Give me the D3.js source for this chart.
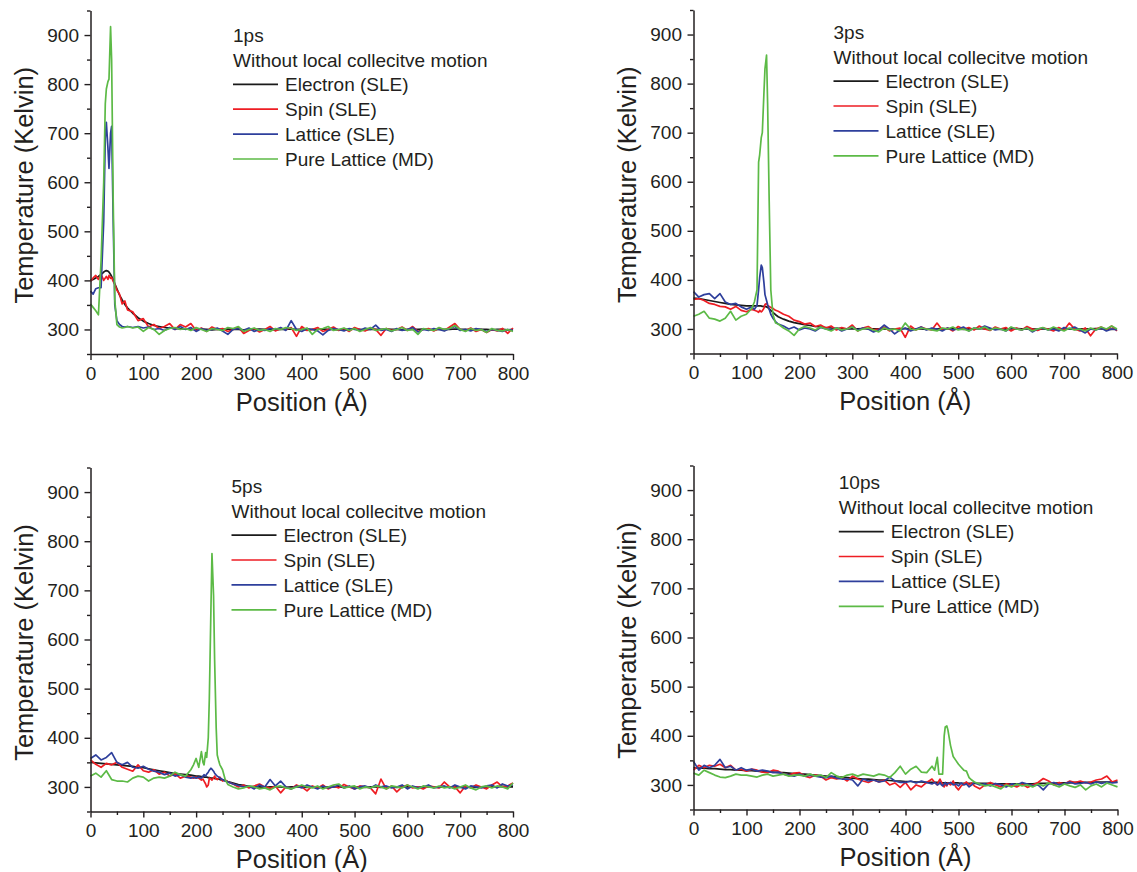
<!DOCTYPE html>
<html><head><meta charset="utf-8">
<script src="https://cdn.jsdelivr.net/npm/d3@7"></script>
<style>
body{margin:0;background:#fff}
svg{display:block}
text{font-family:"Liberation Sans",Arial,Helvetica,sans-serif;fill:#231f20}
</style>
</head><body>
<svg id="chart" width="1137" height="872"></svg>
<script>
// ---------------- DATA ----------------
const seriesNames = ["Electron (SLE)", "Spin (SLE)", "Lattice (SLE)", "Pure Lattice (MD)"];
const panelLabels = ["1ps", "3ps", "5ps", "10ps"];
const subtitle = "Without local collecitve motion";
const xTickValues = [0, 100, 200, 300, 400, 500, 600, 700, 800];
const xMinorValues = [50, 150, 250, 350, 450, 550, 650, 750];
const yTickValues = [300, 400, 500, 600, 700, 800, 900];
const yMinorValues = [250, 350, 450, 550, 650, 750, 850, 950];
const xTitle = "Position (Å)";
const yTitle = "Temperature (Kelvin)";

// Panel 1 (1ps)
const xs1 = [0,5,10,15,20,25,28,30,33,35,38,40,43,46,50,55,60,65,70,
 80,90,100,110,120,130,140,150,160,170,
 180,190,200,210,220,230,240,250,260,270,
 280,290,300,310,320,330,340,350,360,370,
 380,390,400,410,420,430,440,450,460,470,
 480,490,500,510,520,530,540,550,560,570,
 580,590,600,610,620,630,640,650,660,670,
 680,690,700,710,720,730,740,750,760,770,
 780,790,800];
const electron1 = [400,402,405,408,412,417,419,420,419,417,412,408,402,393,383,370,360,351,344,
 333,324,317,312,308,306,304,303,302,301,
 301,300,300,301,300,299,300,300,301,300,
 300,299,300,300,301,300,300,299,300,300,
 301,300,300,299,300,300,301,300,300,299,
 300,300,301,300,299,300,300,300,301,300,
 300,299,300,300,300,301,300,299,300,300,
 300,301,300,300,299,300,300,300,299,300,
 300,299,300];
const spin1 = [398,405,410,402,413,400,405,408,402,410,404,406,398,392,380,372,352,358,340,
 336,318,322,305,310,302,306,312,300,310,
 305,312,298,303,296,305,300,302,296,300,
 305,292,298,302,295,300,306,297,302,300,
 304,286,306,298,300,304,296,300,305,298,
 302,296,304,300,297,303,300,288,302,298,
 300,305,298,306,296,300,302,297,303,298,
 305,312,300,298,303,296,300,294,300,297,
 302,292,303];
const lattice1 = [378,372,383,385,385,520,690,722,670,628,700,714,520,350,318,310,306,305,306,
 304,306,303,305,300,302,298,304,300,306,
 300,304,296,302,298,300,303,297,290,300,
 302,298,303,296,300,298,302,300,304,298,
 318,300,296,302,300,297,289,298,302,300,
 297,302,300,298,303,300,309,298,300,296,
 302,298,300,304,295,300,298,302,300,297,
 302,306,298,300,297,302,300,296,300,298,
 296,300,298];
const pure1 = [352,345,338,330,440,600,760,790,805,810,917,850,560,360,310,305,303,304,306,
 303,305,296,304,300,290,298,302,304,300,
 302,298,304,300,296,302,300,298,304,302,
 306,296,300,303,298,300,296,302,300,304,
 302,298,300,303,290,300,302,306,298,300,
 303,298,302,296,300,304,298,300,302,297,
 300,304,298,300,290,302,300,298,304,300,
 302,308,300,296,302,298,300,294,302,298,
 297,300,296];

// Panel 2 (3ps)
const xs2 = [0,10,20,30,40,50,60,70,80,90,100,110,
 115,120,123,125,128,130,133,135,138,140,143,146,150,155,
 160,170,180,190,200,210,220,230,240,250,
 260,270,280,290,300,310,320,330,340,350,
 360,370,380,390,400,410,420,430,440,450,
 460,470,480,490,500,510,520,530,540,550,
 560,570,580,590,600,610,620,630,640,650,
 660,670,680,690,700,710,720,730,740,750,
 760,770,780,790,800];
const electron2 = [363,362,360,358,356,354,352,350,349,348,347,347,
 347,347,347,347,347,346,346,346,345,344,341,338,334,329,
 325,320,316,313,311,309,307,305,304,303,
 302,301,301,300,300,300,301,300,300,300,
 300,299,300,300,301,300,300,300,299,300,
 300,301,300,300,300,299,300,300,301,300,
 300,300,299,300,300,301,300,300,300,299,
 300,300,301,300,300,300,299,300,300,300,
 301,300,300,299,300];
const spin2 = [360,362,358,352,350,346,345,340,346,338,335,340,
 338,336,334,338,335,337,342,350,352,348,346,344,342,338,
 336,330,326,318,315,310,312,305,308,302,
 306,298,303,300,308,296,302,305,298,300,
 304,296,300,302,283,306,298,304,300,298,
 312,298,302,296,305,300,303,298,306,300,
 297,304,300,303,296,302,298,305,300,297,
 302,300,296,303,298,312,300,296,302,286,
 300,304,298,306,296];
const lattice2 = [376,365,370,372,362,372,355,350,352,345,340,345,
 340,348,380,405,430,425,395,370,358,350,340,330,322,315,
 310,306,300,304,298,302,300,296,303,300,
 298,302,296,300,304,298,302,300,294,298,
 308,300,290,298,302,296,300,304,298,302,
 300,296,302,298,300,304,296,302,300,306,
 302,298,300,296,303,300,298,302,294,300,
 302,298,300,296,303,300,304,298,292,300,
 298,302,296,300,298];
const pure2 = [326,330,336,322,320,316,322,336,318,326,330,342,
 355,380,640,655,690,700,780,830,858,760,560,380,330,312,
 310,302,296,287,300,305,302,298,304,300,
 296,302,298,300,304,296,300,302,298,294,
 302,298,300,296,312,300,298,302,300,298,
 296,302,300,304,298,300,296,302,300,304,
 298,302,300,296,304,300,298,302,296,300,
 303,298,304,300,296,302,298,300,296,302,
 298,304,300,306,300];

// Panel 3 (5ps)
const xs3 = [0,10,20,30,40,50,60,70,80,90,100,110,120,130,140,150,160,170,180,190,
 195,200,205,210,213,215,218,220,223,225,228,230,233,235,238,240,243,245,250,255,
 260,270,280,290,300,310,320,330,340,350,
 360,370,380,390,400,410,420,430,440,450,
 460,470,480,490,500,510,520,530,540,550,
 560,570,580,590,600,610,620,630,640,650,
 660,670,680,690,700,710,720,730,740,750,
 760,770,780,790,800];
const electron3 = [350,349,348,347,346,345,344,343,342,340,339,337,335,333,331,329,327,326,325,324,
 323,322,322,321,321,320,320,320,319,319,318,318,318,317,317,316,316,315,314,313,
 311,308,305,303,301,300,300,299,300,300,
 300,299,300,300,300,299,300,300,299,300,
 300,300,299,300,300,300,299,300,300,299,
 300,300,299,300,300,300,299,300,300,300,
 299,300,300,300,299,300,300,299,300,300,
 300,300,301,300,300];
const spin3 = [355,346,340,348,345,350,340,336,332,345,333,330,335,326,330,322,327,318,322,320,
 318,320,318,314,316,312,306,300,304,318,316,314,318,322,316,315,318,320,312,314,
 310,306,300,304,298,302,306,300,297,302,
 288,300,296,304,300,292,302,298,304,296,
 302,298,305,300,296,302,300,298,286,316,
 296,302,290,300,304,298,300,296,302,300,
 298,310,300,300,288,302,298,304,300,296,
 304,310,300,302,308];
const lattice3 = [358,365,355,360,370,350,345,350,340,338,342,336,332,330,325,328,322,325,320,318,
 320,318,320,318,322,325,322,326,330,334,338,336,332,328,324,322,320,318,315,312,
 310,306,303,300,302,296,304,300,315,302,
 312,300,296,302,298,304,300,296,302,298,
 300,304,298,302,296,300,302,298,304,300,
 302,298,300,304,296,302,298,300,304,298,
 300,302,298,304,300,296,302,300,298,302,
 304,298,306,302,304];
const pure3 = [322,328,320,333,315,312,312,310,318,322,320,312,318,320,318,322,330,325,322,335,
 345,358,340,372,350,345,370,360,400,480,660,775,690,560,420,365,352,345,335,315,
 305,300,296,298,302,300,296,298,294,300,
 302,298,296,300,304,300,298,302,296,300,
 304,306,298,300,302,296,300,298,302,300,
 296,302,300,298,304,300,296,302,300,298,
 302,298,300,296,300,304,298,294,300,302,
 298,302,300,296,308];

// Panel 4 (10ps)
const xs4 = [0,10,20,30,40,50,60,70,80,90,
 100,110,120,130,140,150,160,170,180,190,
 200,210,220,230,240,250,260,270,280,290,
 300,310,320,330,340,350,360,370,380,390,
 400,410,420,430,440,450,
 455,460,463,465,468,470,473,475,478,480,485,490,495,500,505,510,515,520,525,
 530,540,550,560,570,580,590,600,610,620,
 630,640,650,660,670,680,690,700,710,720,
 730,740,750,760,770,780,790,800];
const electron4 = [335,334,334,333,333,332,331,331,330,330,
 329,329,328,327,327,326,325,325,324,323,
 322,322,321,320,319,318,317,317,316,315,
 314,313,312,312,311,310,310,309,308,308,
 307,307,306,306,305,305,
 305,305,305,305,305,304,304,304,304,304,304,304,304,304,303,303,303,303,303,
 303,303,303,303,302,302,302,302,302,302,
 302,302,303,303,303,303,304,304,304,305,
 305,305,305,306,306,306,306,306];
const spin4 = [330,340,335,340,338,342,335,340,330,332,
 328,332,330,326,325,330,328,322,320,324,
 325,318,315,320,318,310,315,312,315,308,
 318,312,308,305,310,306,310,300,304,295,
 305,290,300,296,305,312,
 305,300,308,312,305,300,296,302,298,304,300,308,296,290,298,302,306,300,304,
 298,292,300,305,300,296,302,300,296,302,
 295,300,305,313,308,300,305,302,308,305,
 308,304,306,310,312,318,306,310];
const lattice4 = [348,330,340,335,340,352,335,338,330,335,
 330,332,328,330,328,325,326,322,320,318,
 322,318,320,318,316,315,318,314,312,312,
 310,298,312,308,310,306,308,316,308,305,
 305,308,304,308,305,302,
 305,300,302,305,300,298,302,305,300,303,305,300,302,298,304,300,302,296,300,
 305,300,302,298,303,300,296,302,300,305,
 302,298,300,290,302,305,300,303,306,302,
 303,305,302,306,303,306,304,305];
const pure4 = [324,320,330,325,320,316,315,318,322,320,
 320,318,316,320,322,318,320,322,318,320,
 320,318,322,318,320,315,325,318,315,320,
 322,318,322,320,318,322,320,315,325,338,
 322,332,338,326,325,338,
 330,356,322,322,322,322,400,418,420,412,380,358,350,342,336,330,328,315,310,
 306,302,298,300,296,292,300,296,302,298,
 300,296,302,298,304,300,296,302,298,295,
 300,290,298,302,296,304,300,296];

// ---------------- LAYOUT / STYLE ----------------
const colors = ["#1a1a1a", "#ee1d23", "#2e3f9c", "#5cba46"];
const panels = [
  {xs: xs1, ys: [electron1, spin1, lattice1, pure1], label: panelLabels[0], x0: 90.5, x1: 513, yTop: 10.5, yBot: 354, lx: 233, ly: 41.7},
  {xs: xs2, ys: [electron2, spin2, lattice2, pure2], label: panelLabels[1], x0: 693.5, x1: 1117, yTop: 10, yBot: 353.5, lx: 833.5, ly: 38.5},
  {xs: xs3, ys: [electron3, spin3, lattice3, pure3], label: panelLabels[2], x0: 90.5, x1: 513, yTop: 467.5, yBot: 811.5, lx: 231.5, ly: 492.5},
  {xs: xs4, ys: [electron4, spin4, lattice4, pure4], label: panelLabels[3], x0: 693.5, x1: 1117.5, yTop: 465.5, yBot: 809.5, lx: 838.8, ly: 489}
];

const svg = d3.select("#chart");
const axisColor = "#231f20";

panels.forEach(p => {
  const x = d3.scaleLinear().domain([0, 800]).range([p.x0, p.x1]);
  const y = d3.scaleLinear().domain([250, 950]).range([p.yBot, p.yTop]);
  const g = svg.append("g");

  // series lines
  const line = d3.line().x(d => x(d[0])).y(d => y(d[1]));
  p.ys.forEach((vals, i) => {
    g.append("path")
      .datum(d3.zip(p.xs, vals))
      .attr("fill", "none")
      .attr("stroke", colors[i])
      .attr("stroke-width", 1.7)
      .attr("stroke-linejoin", "round")
      .attr("d", line);
  });

  // minor ticks
  const yMinor = g.append("g").attr("transform", `translate(${p.x0},0)`)
    .call(d3.axisLeft(y).tickValues(yMinorValues).tickSize(3.5).tickFormat(""));
  yMinor.select(".domain").remove();
  const xMinor = g.append("g").attr("transform", `translate(0,${p.yBot})`)
    .call(d3.axisBottom(x).tickValues(xMinorValues).tickSize(3.5).tickFormat(""));
  xMinor.select(".domain").remove();

  // major axes
  const yAx = g.append("g").attr("transform", `translate(${p.x0},0)`)
    .call(d3.axisLeft(y).tickValues(yTickValues).tickSize(6).tickSizeOuter(0).tickPadding(5.5));
  const xAx = g.append("g").attr("transform", `translate(0,${p.yBot})`)
    .call(d3.axisBottom(x).tickValues(xTickValues).tickSize(6).tickSizeOuter(0).tickPadding(6.5));

  [yMinor, xMinor, yAx, xAx].forEach(a => {
    a.selectAll("line").attr("stroke", axisColor).attr("stroke-width", 1.4);
    a.selectAll(".domain").attr("stroke", axisColor).attr("stroke-width", 1.5);
    a.selectAll("text").attr("font-size", 19).attr("font-family", "Liberation Sans, Arial, sans-serif").attr("fill", axisColor);
  });

  // axis titles
  g.append("text")
    .attr("x", (p.x0 + p.x1) / 2)
    .attr("y", p.yBot + 56.5)
    .attr("text-anchor", "middle")
    .attr("font-size", 25.5)
    .text(xTitle);
  g.append("text")
    .attr("transform", `translate(${p.x0 - 57.5},${(p.yTop + p.yBot) / 2 + 3}) rotate(-90)`)
    .attr("text-anchor", "middle")
    .attr("font-size", 25.5)
    .text(yTitle);

  // legend
  g.append("text").attr("x", p.lx).attr("y", p.ly).attr("font-size", 19).text(p.label);
  g.append("text").attr("x", p.lx).attr("y", p.ly + 25).attr("font-size", 19).text(subtitle);
  seriesNames.forEach((name, i) => {
    const ry = p.ly + 42.6 + i * 24.9;
    g.append("line").attr("x1", p.lx).attr("x2", p.lx + 45).attr("y1", ry).attr("y2", ry)
      .attr("stroke", colors[i]).attr("stroke-width", 1.7);
    g.append("text").attr("x", p.lx + 52).attr("y", ry + 6.8).attr("font-size", 19).text(name);
  });
});
</script>
</body></html>
